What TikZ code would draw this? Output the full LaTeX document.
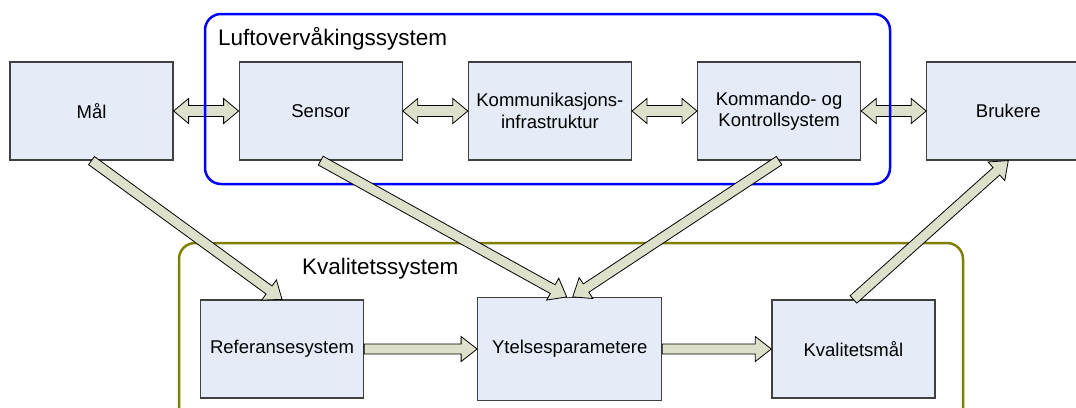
\documentclass[tikz,border=0pt]{standalone}
\usepackage{fontspec}
\setmainfont{Liberation Sans}
\usepackage{tikz}
\usetikzlibrary{positioning,calc}
\usepackage{xcolor}
\definecolor{lvboxfill}{RGB}{229,235,247}
\definecolor{lvboxdraw}{RGB}{64,64,64}
\definecolor{lvarrowfill}{RGB}{221,224,203}
\definecolor{lvblue}{RGB}{0,0,255}
\definecolor{lvolive}{RGB}{128,128,0}
\tikzstyle{unitbox} = [rectangle, minimum width=163pt, minimum height=98pt, text centered, align=center, draw=lvboxdraw, fill=lvboxfill, line width=1.2pt, font=\fontsize{18.5}{21.5}\selectfont]
\tikzstyle{fatarrow} = [draw=black, fill=lvarrowfill, line width=0.8pt, line join=miter]
\tikzstyle{groupframe} = [rounded corners=16pt, line width=2.5pt]
\tikzstyle{grouptitle} = [anchor=base west, inner sep=0pt, font=\fontsize{22.5}{27}\selectfont]

% block arrow from #1 to #2
\newcommand{\blockarrow}[2]{%
  \path (#1) coordinate (ba-s) (#2) coordinate (ba-e);
  \path ($(ba-e)!16pt!(ba-s)$) coordinate (ba-h);
  \draw[fatarrow] ($(ba-s)!5pt!90:(ba-e)$) -- ($(ba-h)!5pt!90:(ba-e)$) -- ($(ba-h)!12.5pt!90:(ba-e)$) -- (ba-e) -- ($(ba-h)!12.5pt!-90:(ba-e)$) -- ($(ba-h)!5pt!-90:(ba-e)$) -- ($(ba-s)!5pt!-90:(ba-e)$) -- cycle;}
% block arrow with two heads
\newcommand{\twowayarrow}[2]{%
  \path (#1) coordinate (ba-s) (#2) coordinate (ba-e);
  \path ($(ba-s)!15pt!(ba-e)$) coordinate (ba-h1) ($(ba-e)!15pt!(ba-s)$) coordinate (ba-h2);
  \draw[fatarrow] (ba-s) -- ($(ba-h1)!12.5pt!90:(ba-e)$) -- ($(ba-h1)!5.5pt!90:(ba-e)$) -- ($(ba-h2)!5.5pt!90:(ba-e)$) -- ($(ba-h2)!12.5pt!90:(ba-e)$) -- (ba-e) -- ($(ba-h2)!12.5pt!-90:(ba-e)$) -- ($(ba-h2)!5.5pt!-90:(ba-e)$) -- ($(ba-h1)!5.5pt!-90:(ba-e)$) -- ($(ba-h1)!12.5pt!-90:(ba-e)$) -- cycle;}

\begin{document}
\begin{tikzpicture}[x=1pt, y=-1pt, node distance=65pt]
\useasboundingbox (0,0) rectangle (1076,407);
\clip (0,0) rectangle (1076,407);

% Kvalitetssystem frame
\draw[groupframe, lvolive] (179,243) rectangle (963,430);
\node[grouptitle] (kvallabel) at (302,274) {Kvalitetssystem};

% Top row
\node[unitbox] (maal) at (91.5,111) {Mål};
\node[unitbox, right=of maal] (sensor) {Sensor};
\node[unitbox, right=of sensor] (kommunikasjon) {Kommunikasjons-\\infrastruktur};
\node[unitbox, right=of kommunikasjon] (kommando) {Kommando- og\\Kontrollsystem};
\node[unitbox, right=of kommando] (brukere) {Brukere};

% Bottom row
\node[unitbox] (referanse) at (282,349) {Referansesystem};
\node[unitbox, right=113pt of referanse, minimum width=184pt, minimum height=103pt] (ytelse) {Ytelsesparametere};
\node[unitbox, right=109pt of ytelse] (kvalitet) {Kvalitetsmål};

% Two-way links
\twowayarrow{maal.east}{sensor.west}
\twowayarrow{sensor.east}{kommunikasjon.west}
\twowayarrow{kommunikasjon.east}{kommando.west}
\twowayarrow{kommando.east}{brukere.west}

% Luftovervaakingssystem frame
\draw[groupframe, lvblue] (205,14) rectangle (890,184);
\node[grouptitle] (luftlabel) at (218,45) {Luftovervåkingssystem};

% Links to the quality system
\blockarrow{maal.south}{referanse.north}
\blockarrow{sensor.south}{$(ytelse.north)+(-3,0)$}
\blockarrow{kommando.south}{$(ytelse.north)+(3,0)$}
\blockarrow{kvalitet.north}{brukere.south}
\blockarrow{referanse.east}{ytelse.west}
\blockarrow{ytelse.east}{kvalitet.west}
\end{tikzpicture}
\end{document}
